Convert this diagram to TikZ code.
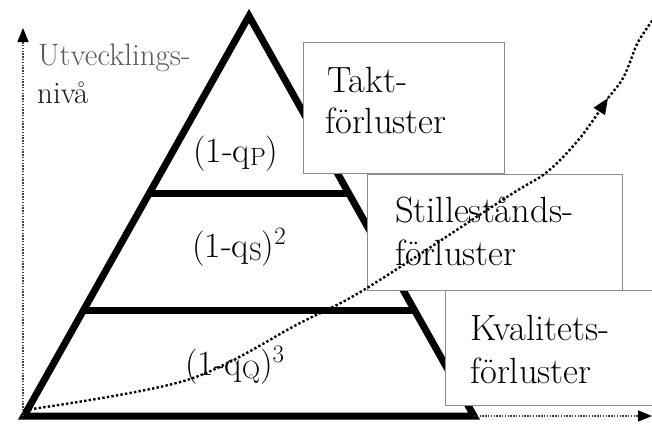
\documentclass[tikz,border=0pt]{standalone}
\usetikzlibrary{arrows.meta,calc}
\newcommand\lsub[1]{\raisebox{-3pt}{\fontsize{25}{25}\selectfont #1}}
\newcommand\lsup[1]{\raisebox{13pt}{\fontsize{25}{25}\selectfont #1}}
\begin{document}
\begin{tikzpicture}[x=1pt,y=-1pt,
  thickline/.style={line width=7pt, line join=miter},
  lossbox/.style={draw=black!45, line width=1.3pt, fill=white, anchor=north west, inner sep=0pt},
  boxtext/.style={anchor=base west, inner sep=0pt, font=\rmfamily\fontsize{36.5}{41}\selectfont},
  trilabel/.style={anchor=base west, inner sep=0pt, font=\rmfamily\fontsize{35.5}{40}\selectfont},
  axtext/.style={anchor=base west, inner sep=0pt, font=\rmfamily\fontsize{31}{37}\selectfont},
  axisline/.style={draw=black!75, line width=1.4pt, dash pattern=on 1.4pt off 1.4pt},
  curveline/.style={line width=2.4pt, dash pattern=on 2.4pt off 2.2pt}]
\useasboundingbox (0,0) rectangle (652,423);
% triangle
\coordinate (apex) at (249,16);
\coordinate (bl) at (24,416);
\coordinate (br) at (474,416);
\draw[thickline] (bl) -- (apex) -- (br) -- cycle;
\draw[thickline] ($(apex)!0.4425!(bl)$) -- ($(apex)!0.4425!(br)$);
\draw[thickline] ($(apex)!0.735!(bl)$) -- ($(apex)!0.735!(br)$);
% axes
\coordinate (origin) at (23,416);
\coordinate (ytip) at (23,28);
\coordinate (xtip) at (652,416);
\draw[axisline,-{Triangle[length=14pt,width=11pt,black]}] (origin) -- (ytip);
\draw[axisline,-{Triangle[length=14pt,width=11pt,black]}] (br) -- (xtip);
\node[axtext, text=black!65] (ut1) at (38,65) {Utvecklings-};
\node[axtext, text=black!90] (ut2) at (37,103) {nivå};
% labels in triangle
\node[trilabel] (lp) at (193,162) {(1-q\lsub{P})};
\node[trilabel] (ls) at (192,257) {(1-q\lsub{S})\lsup{2}};
\node[trilabel] (lq) at (185,375) {(1-q\lsub{Q})\lsup{3}};
% boxes
\node[lossbox, minimum width=201pt, minimum height=131pt] (takt) at (303,42) {};
\node[lossbox, minimum width=255pt, minimum height=116pt] (still) at (367,174) {};
\node[lossbox, minimum width=220pt, minimum height=115pt] (kval) at (445,290) {};
\node[boxtext] (t1) at (327,92) {Takt-};
\node[boxtext] (t2) at (325,133) {förluster};
\node[boxtext] (s1) at (395,222) {Stillestånds-};
\node[boxtext] (s2) at (395,265) {förluster};
\node[boxtext] (k1) at (470,340) {Kvalitets-};
\node[boxtext] (k2) at (470,383) {förluster};
% development curve
\coordinate (c0) at (25,410);
\coordinate (cm) at (608,98);
\coordinate (cend) at (654,18);
\draw[curveline,-{Triangle[length=16pt,width=13pt]}] plot[smooth, tension=0.55] coordinates {(c0) (187,380) (300,323) (367,288) (507,197) (547,172) (580,138) (cm)};
\draw[curveline] plot[smooth, tension=0.55] coordinates {(cm) (622,80) (630,62) (638,42) (cend)};
\end{tikzpicture}
\end{document}
